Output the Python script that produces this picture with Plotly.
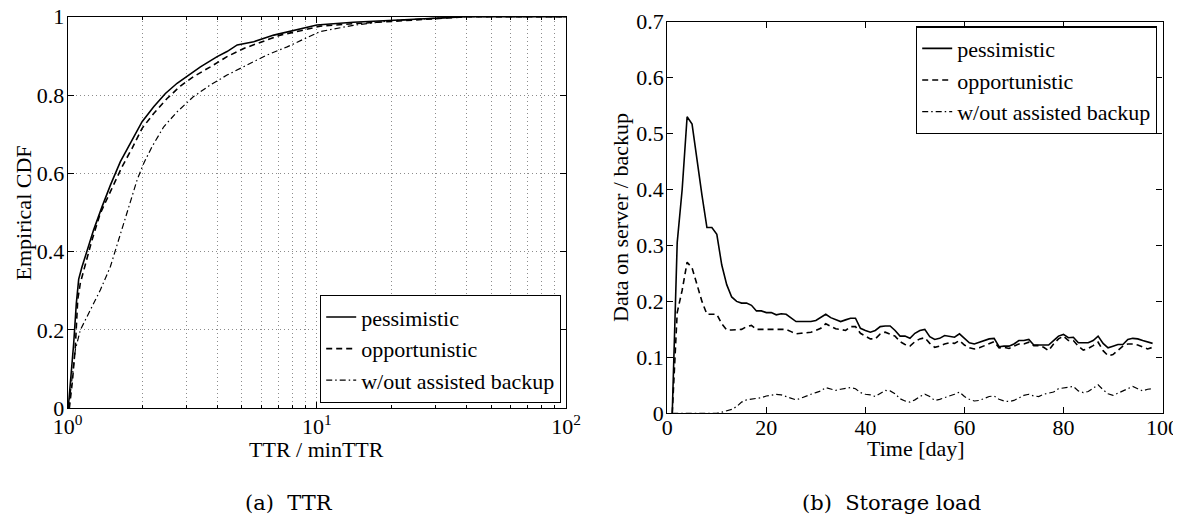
import plotly.graph_objects as go

W, H = 1181, 518
OFF = 8  # the page body margin shifts the figure by this many pixels

# ---------------- data: (a) TTR empirical CDF ----------------
pess_x = [1.005, 1.03, 1.057, 1.083, 1.107, 1.14, 1.196, 1.27, 1.374, 1.484, 1.627, 1.785, 1.989,
          2.214, 2.467, 2.748, 3.01, 3.41, 3.98, 4.36, 4.79, 5.58, 6.72, 8.09, 10.0, 14.0, 20.0,
          30.0, 40.0, 60.0, 100.0]
pess_y = [0.0, 0.08, 0.166, 0.268, 0.33, 0.36, 0.404, 0.455, 0.515, 0.570, 0.63, 0.677, 0.732,
          0.770, 0.804, 0.83, 0.847, 0.872, 0.898, 0.911, 0.928, 0.936, 0.953, 0.966, 0.979, 0.986,
          0.991, 0.997, 1.0, 1.0, 1.0]

opp_x = [1.015, 1.045, 1.073, 1.097, 1.124, 1.178, 1.252, 1.352, 1.484, 1.653, 1.813, 1.989, 2.214,
         2.505, 2.834, 3.2, 3.74, 4.36, 5.09, 5.94, 7.14, 8.6, 10.3, 14.0, 20.0, 30.0, 40.0, 60.0,
         100.0]
opp_y = [0.0, 0.07, 0.157, 0.277, 0.32, 0.37, 0.43, 0.498, 0.553, 0.617, 0.664, 0.715, 0.753,
         0.791, 0.823, 0.847, 0.872, 0.898, 0.919, 0.934, 0.953, 0.964, 0.976, 0.982, 0.988,
         0.996, 1.0, 1.0, 1.0]

wo_x = [1.008, 1.04, 1.073, 1.124, 1.233, 1.352, 1.484, 1.603, 1.757, 1.899, 2.02, 2.18, 2.43,
        2.748, 3.2, 3.74, 4.36, 5.25, 6.3, 7.6, 9.1, 10.3, 14.0, 20.0, 30.0, 40.0, 60.0, 100.0]
wo_y = [0.0, 0.072, 0.149, 0.2, 0.251, 0.302, 0.362, 0.43, 0.515, 0.583, 0.626, 0.668, 0.719,
        0.757, 0.796, 0.826, 0.851, 0.877, 0.902, 0.923, 0.945, 0.962, 0.978, 0.99, 0.996, 1.0,
        1.0, 1.0]

# ---------------- data: (b) storage load ----------------
days = list(range(1, 99))
pess_load = [0.0, 0.305, 0.40, 0.530, 0.517, 0.45, 0.39, 0.332, 0.332, 0.32,
             0.265, 0.23, 0.208, 0.200, 0.197, 0.197, 0.193, 0.183, 0.183, 0.180,
             0.180, 0.176, 0.178, 0.177, 0.170, 0.164, 0.164, 0.164, 0.164, 0.166,
             0.171, 0.177, 0.171, 0.167, 0.164, 0.167, 0.170, 0.170, 0.152, 0.148,
             0.145, 0.148, 0.155, 0.156, 0.156, 0.148, 0.138, 0.138, 0.134, 0.143,
             0.148, 0.150, 0.137, 0.132, 0.134, 0.139, 0.137, 0.136, 0.142, 0.134,
             0.126, 0.124, 0.127, 0.130, 0.133, 0.134, 0.119, 0.120, 0.120, 0.124,
             0.130, 0.130, 0.132, 0.122, 0.122, 0.123, 0.122, 0.130, 0.138, 0.141,
             0.135, 0.136, 0.126, 0.126, 0.126, 0.130, 0.138, 0.125, 0.117, 0.120,
             0.123, 0.123, 0.132, 0.134, 0.133, 0.130, 0.128, 0.125]
opp_load = [0.0, 0.18, 0.22, 0.27, 0.26, 0.23, 0.20, 0.177, 0.177, 0.177,
            0.16, 0.149, 0.149, 0.149, 0.150, 0.155, 0.157, 0.150, 0.150, 0.150,
            0.151, 0.151, 0.151, 0.150, 0.146, 0.142, 0.143, 0.144, 0.145, 0.148,
            0.152, 0.160, 0.155, 0.151, 0.150, 0.148, 0.155, 0.155, 0.143, 0.138,
            0.133, 0.133, 0.142, 0.145, 0.142, 0.138, 0.128, 0.123, 0.120, 0.128,
            0.133, 0.135, 0.125, 0.118, 0.120, 0.124, 0.126, 0.125, 0.130, 0.122,
            0.117, 0.115, 0.117, 0.121, 0.125, 0.128, 0.117, 0.118, 0.116, 0.120,
            0.124, 0.124, 0.127, 0.121, 0.121, 0.118, 0.112, 0.124, 0.133, 0.138,
            0.130, 0.130, 0.120, 0.113, 0.116, 0.121, 0.127, 0.112, 0.103, 0.105,
            0.112, 0.120, 0.124, 0.124, 0.122, 0.118, 0.115, 0.118]
wo_load = [0.0, 0.0, 0.0, 0.0, 0.0, 0.0, 0.0, 0.0, 0.0, 0.0,
           0.002, 0.005, 0.007, 0.012, 0.020, 0.024, 0.025, 0.026, 0.028, 0.031,
           0.033, 0.034, 0.033, 0.030, 0.026, 0.024, 0.027, 0.031, 0.034, 0.037,
           0.040, 0.046, 0.043, 0.041, 0.043, 0.044, 0.046, 0.044, 0.037, 0.034,
           0.033, 0.030, 0.035, 0.041, 0.040, 0.035, 0.026, 0.022, 0.020, 0.024,
           0.030, 0.034, 0.030, 0.023, 0.025, 0.028, 0.030, 0.034, 0.038, 0.030,
           0.025, 0.022, 0.023, 0.027, 0.030, 0.031, 0.025, 0.022, 0.021, 0.023,
           0.028, 0.032, 0.034, 0.031, 0.030, 0.034, 0.036, 0.038, 0.044, 0.045,
           0.046, 0.048, 0.040, 0.037, 0.039, 0.045, 0.051, 0.042, 0.035, 0.032,
           0.036, 0.040, 0.045, 0.048, 0.044, 0.040, 0.043, 0.044]

names = ["pessimistic", "opportunistic", "w/out assisted backup"]
ttr_ticks = [1, 10, 100]
ttr_ticktext = ["10<sup>0</sup>", "10<sup>1</sup>", "10<sup>2</sup>"]
ttr_minor = [2, 3, 4, 5, 6, 7, 8, 9, 20, 30, 40, 50, 60, 70, 80, 90]
cdf_ticks = [0, 0.2, 0.4, 0.6, 0.8, 1.0]
cdf_ticktext = ["0", "0.2", "0.4", "0.6", "0.8", "1"]
day_ticks = [0, 20, 40, 60, 80, 100]
load_ticks = [0, 0.1, 0.2, 0.3, 0.4, 0.5, 0.6, 0.7]
load_ticktext = ["0", "0.1", "0.2", "0.3", "0.4", "0.5", "0.6", "0.7"]

# ---------------- styling ----------------
FONT = "Liberation Serif, Times New Roman, Times, serif"
styles = [dict(color="black", width=1.6, dash="solid"),
          dict(color="black", width=1.6, dash="6px,4px"),
          dict(color="black", width=1.2, dash="6px,3px,1.5px,3px")]


def px_x(p):
    return (p - OFF) / W


def px_y(p):
    return (H - (p - OFF)) / H


fig = go.Figure()
for nm, xs, ys, st in zip(names, [pess_x, opp_x, wo_x], [pess_y, opp_y, wo_y], styles):
    fig.add_trace(go.Scatter(x=xs, y=ys, mode="lines", name=nm, line=st,
                             xaxis="x", yaxis="y", legend="legend"))
for nm, ys, st in zip(names, [pess_load, opp_load, wo_load], styles):
    fig.add_trace(go.Scatter(x=days, y=ys, mode="lines", name=nm, line=st,
                             xaxis="x2", yaxis="y2", legend="legend2"))

axis_common = dict(showline=True, linecolor="black", linewidth=1.2, mirror="allticks",
                   ticks="inside", ticklen=6, tickcolor="black", tickwidth=1,
                   zeroline=False, automargin=False, ticklabeloverflow="allow",
                   tickfont=dict(family=FONT, size=22, color="black"))
GRIDC = "#8c8c8c"
GDASH = "1px,3px"
grid = dict(showgrid=True, gridcolor=GRIDC, gridwidth=1, griddash=GDASH)

L = dict(x0=67.7, x1=566.0, y0=16.7, y1=408.3)
R = dict(x0=667.3, x1=1162.5, y0=21.7, y1=413.3)

fig.update_layout(
    template="none",
    width=W, height=H,
    margin=dict(l=0, r=0, t=0, b=0, pad=0, autoexpand=False),
    paper_bgcolor="white", plot_bgcolor="white",
    font=dict(family=FONT, size=22, color="black"),
    xaxis=dict(domain=[px_x(L["x0"]), px_x(L["x1"])], anchor="y", type="log", range=[0, 2],
               tickmode="array", tickvals=ttr_ticks, ticktext=ttr_ticktext, ticklabelstandoff=-2,
               minor=dict(tickmode="array", tickvals=ttr_minor, ticks="inside", ticklen=3,
                          tickcolor="black", showgrid=True, gridcolor=GRIDC, griddash=GDASH),
               **grid, **axis_common),
    yaxis=dict(domain=[px_y(L["y1"]), px_y(L["y0"])], anchor="x", range=[0, 1],
               tickmode="array", tickvals=cdf_ticks, ticktext=cdf_ticktext, ticklabelstandoff=-2,
               **grid, **axis_common),
    xaxis2=dict(domain=[px_x(R["x0"]), px_x(R["x1"])], anchor="y2", range=[0, 100],
                tickmode="array", tickvals=day_ticks, showgrid=False, ticklabelstandoff=-6,
                **axis_common),
    yaxis2=dict(domain=[px_y(R["y1"]), px_y(R["y0"])], anchor="x2", range=[0, 0.7],
                tickmode="array", tickvals=load_ticks, ticktext=load_ticktext,
                showgrid=False, ticklabelstandoff=-2, **axis_common),
    legend=dict(x=px_x(561), y=px_y(403), xanchor="right", yanchor="bottom",
                bgcolor="white", bordercolor="black", borderwidth=1.2,
                font=dict(family=FONT, size=22, color="black"), tracegroupgap=0,
                itemwidth=30),
    legend2=dict(x=px_x(1157), y=px_y(26.4), xanchor="right", yanchor="top",
                 bgcolor="white", bordercolor="black", borderwidth=1.2,
                 font=dict(family=FONT, size=22, color="black"), tracegroupgap=0,
                 itemwidth=30),
    showlegend=True,
)

ann_font = dict(family=FONT, size=22, color="black")
cap_font = dict(family="DejaVu Serif", size=21, color="black")
annotations = [
    dict(text="Empirical CDF", x=px_x(22.5), y=px_y(213), textangle=-90, font=ann_font),
    dict(text="TTR / minTTR", x=px_x(316.5), y=px_y(449), font=ann_font),
    dict(text="Data on server / backup", x=px_x(620.5), y=px_y(217.5), textangle=-90, font=ann_font),
    dict(text="Time [day]", x=px_x(915.5), y=px_y(448), font=ann_font),
    dict(text="(a)  TTR", x=px_x(289), y=px_y(503), font=cap_font),
    dict(text="(b)  Storage load", x=px_x(891), y=px_y(503), font=cap_font),
]
for a in annotations:
    a.update(xref="paper", yref="paper", showarrow=False, xanchor="center", yanchor="middle")
fig.update_layout(annotations=annotations)

fig.write_html("out.html")
